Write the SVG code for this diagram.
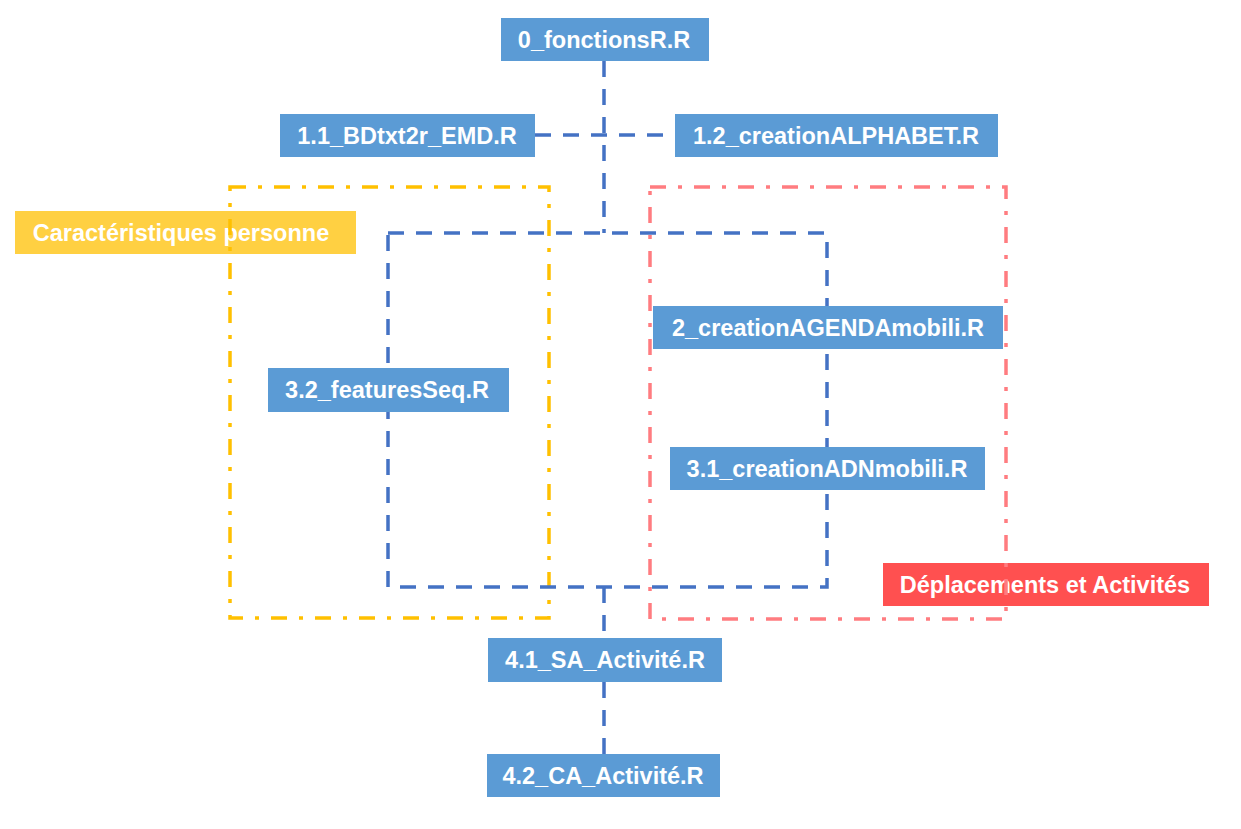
<svg xmlns="http://www.w3.org/2000/svg" width="1241" height="829" viewBox="0 0 1241 829">
<style>
.node rect{fill:#5B9BD5}
.lbl{font-family:"Liberation Sans",Arial,sans-serif;font-weight:bold;font-size:23.5px;fill:#fff;text-anchor:middle}
.conn{fill:none;stroke:#4472C4;stroke-width:3.5;stroke-dasharray:16 12}
.grp{fill:none;stroke-width:3.5;stroke-dasharray:16 12 4 12}
</style>
<rect width="1241" height="829" fill="#fff"/>
<g id="label-caracteristiques">
<rect x="15" y="211" width="341" height="43" fill="#FFD042"/>
<text class="lbl" x="181" y="241">Caractéristiques personne</text>
</g>
<g id="label-deplacements">
<rect x="883" y="563" width="326" height="43" fill="#FF5050"/>
<text class="lbl" x="1045" y="593">Déplacements et Activités</text>
</g>
<g id="groups">
<rect class="grp" x="230" y="187" width="319" height="431" stroke="#FFC000"/>
<rect class="grp" x="650" y="187" width="356" height="432" stroke="#FF7C80"/>
</g>
<g id="connectors">
<path class="conn" d="M604 61V233"/>
<path class="conn" d="M535 135H675"/>
<path class="conn" d="M388 233H827V587H388Z"/>
<path class="conn" d="M604 587V638"/>
<path class="conn" d="M604 682V754"/>
</g>
<g id="n0" class="node"><rect x="501" y="18" width="208" height="43"/><text class="lbl" x="604" y="48">0_fonctionsR.R</text></g>
<g id="n1_1" class="node"><rect x="280" y="114" width="255" height="43"/><text class="lbl" x="407" y="144">1.1_BDtxt2r_EMD.R</text></g>
<g id="n1_2" class="node"><rect x="675" y="114" width="323" height="43"/><text class="lbl" x="836" y="144">1.2_creationALPHABET.R</text></g>
<g id="n2" class="node"><rect x="653" y="306" width="350" height="43"/><text class="lbl" x="828" y="336">2_creationAGENDAmobili.R</text></g>
<g id="n3_2" class="node"><rect x="268" y="368" width="241" height="44"/><text class="lbl" x="387" y="398">3.2_featuresSeq.R</text></g>
<g id="n3_1" class="node"><rect x="670" y="447" width="315" height="43"/><text class="lbl" x="827" y="477">3.1_creationADNmobili.R</text></g>
<g id="n4_1" class="node"><rect x="488" y="638" width="234" height="44"/><text class="lbl" x="605" y="668">4.1_SA_Activité.R</text></g>
<g id="n4_2" class="node"><rect x="487" y="754" width="233" height="43"/><text class="lbl" x="603" y="784">4.2_CA_Activité.R</text></g>
</svg>
